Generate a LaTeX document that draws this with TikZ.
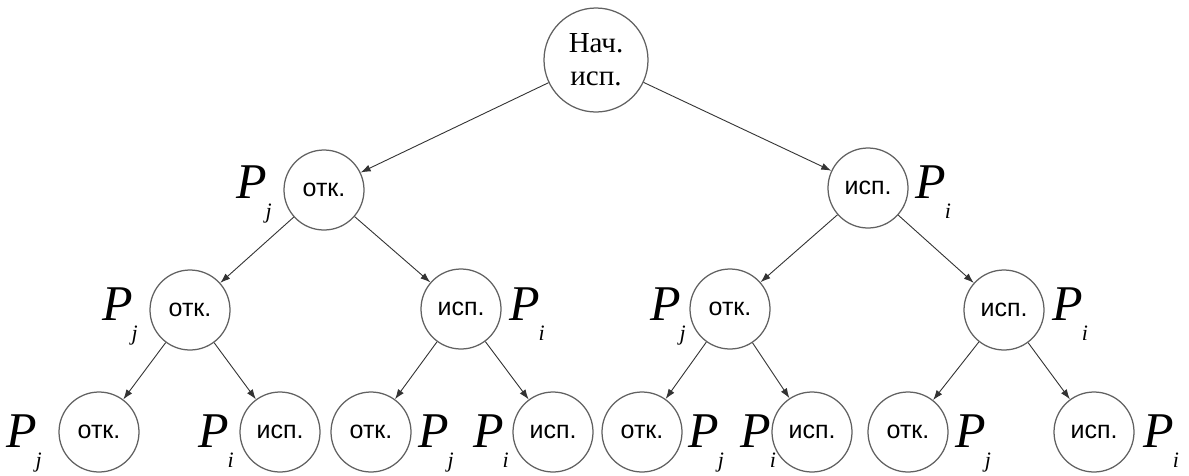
\documentclass[tikz,border=0pt]{standalone}
\usepackage{fontspec}
\setmainfont{Liberation Serif}
\newfontfamily\sansf{Liberation Sans}
\usetikzlibrary{arrows.meta}
\newcommand\Psub[1]{P\kern-1pt\raisebox{-20pt}{\fontsize{22}{22}\selectfont #1}}
\tikzset{
  st/.style={circle, draw=black!62, line width=1.25pt, minimum size=80pt, inner sep=0pt,
    font=\sansf\fontsize{25}{25}\selectfont},
  rootst/.style={st, minimum size=104pt, font=\rmfamily\fontsize{29}{33}\selectfont, align=center},
  arr/.style={-{Latex[length=10pt,width=7pt]}, draw=black!80, line width=0.9pt},
  lab/.style={anchor=base west, inner sep=0pt, font=\rmfamily\itshape\fontsize{50}{50}\selectfont}
}
\begin{document}
\begin{tikzpicture}[x=1pt,y=-1pt]
\useasboundingbox (0,0) rectangle (1189,475);
% nodes
\node[rootst] (r) at (596,60) {Нач.\\исп.};
\node[st] (a) at (324,190) {отк.};
\node[st] (b) at (868,188) {исп.};
\node[st] (aa) at (190,310) {отк.};
\node[st] (ab) at (461,309) {исп.};
\node[st] (ba) at (730,309) {отк.};
\node[st] (bb) at (1004,310) {исп.};
\node[st] (aaa) at (99,432) {отк.};
\node[st] (aab) at (280,432) {исп.};
\node[st] (aba) at (371,432) {отк.};
\node[st] (abb) at (553,432) {исп.};
\node[st] (baa) at (642,432) {отк.};
\node[st] (bab) at (812,432) {исп.};
\node[st] (bba) at (908,432) {отк.};
\node[st] (bbb) at (1094,432) {исп.};
% connectors
\draw[arr] (r) -- (a);
\draw[arr] (r) -- (b);
\draw[arr] (a) -- (aa);
\draw[arr] (a) -- (ab);
\draw[arr] (b) -- (ba);
\draw[arr] (b) -- (bb);
\draw[arr] (aa) -- (aaa);
\draw[arr] (aa) -- (aab);
\draw[arr] (ab) -- (aba);
\draw[arr] (ab) -- (abb);
\draw[arr] (ba) -- (baa);
\draw[arr] (ba) -- (bab);
\draw[arr] (bb) -- (bba);
\draw[arr] (bb) -- (bbb);
% labels
\node[lab] (la) at (236,198) {\Psub{j}};
\node[lab] (lb) at (915,198) {\Psub{i}};
\node[lab] (laa) at (102,320) {\Psub{j}};
\node[lab] (lab) at (509,320) {\Psub{i}};
\node[lab] (lba) at (650,320) {\Psub{j}};
\node[lab] (lbb) at (1052,320) {\Psub{i}};
\node[lab] (laaa) at (6,447) {\Psub{j}};
\node[lab] (laab) at (198,447) {\Psub{i}};
\node[lab] (laba) at (418,447) {\Psub{j}};
\node[lab] (labb) at (473,447) {\Psub{i}};
\node[lab] (lbaa) at (688,447) {\Psub{j}};
\node[lab] (lbab) at (740,447) {\Psub{i}};
\node[lab] (lbba) at (955,447) {\Psub{j}};
\node[lab] (lbbb) at (1143,447) {\Psub{i}};
\end{tikzpicture}
\end{document}
